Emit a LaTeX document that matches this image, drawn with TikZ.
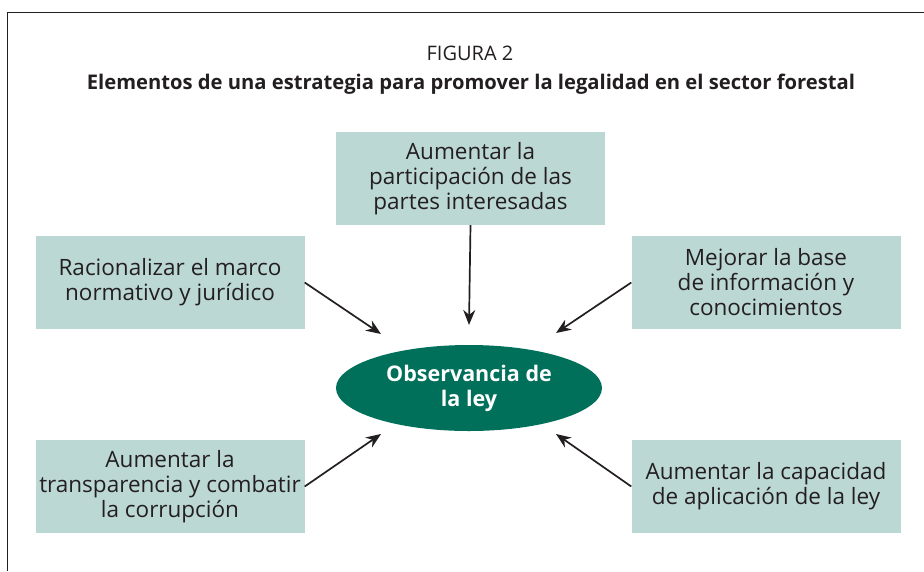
\documentclass[tikz,border=0pt]{standalone}
\usepackage{fontspec}
\setmainfont{Open Sans}
\usepackage{tikz}
\usetikzlibrary{arrows.meta,shapes.geometric}

\definecolor{boxfill}{HTML}{BCD8D4}
\definecolor{lawgreen}{HTML}{00705A}
\definecolor{inkgrey}{HTML}{231F20}

\tikzset{
  factorbox/.style={fill=boxfill,minimum width=269pt,minimum height=93pt,align=center,
    inner sep=0pt,text=inkgrey,font=\fontsize{22.5}{25}\selectfont},
  pusharrow/.style={->,line width=1.7pt,inkgrey},
}

\begin{document}
\begin{tikzpicture}[x=1pt,y=-1pt,>={Stealth[length=15pt,width=12pt]}]
 \useasboundingbox (0,0) rectangle (924,571);
 % frame
 \draw[inkgrey,line width=1pt] (7.5,571) -- (7.5,12) -- (924,12);
 % heading
 \node[text=inkgrey,font=\fontsize{20}{22}\selectfont] (figno) at (470,53) {FIGURA 2};
 \node[text=inkgrey,font=\fontsize{20.2}{22}\selectfont\bfseries] (caption) at (471,84)
   {Elementos de una estrategia para promover la legalidad en el sector forestal};
 % factors
 \node[factorbox] (top) at (470.5,178.5) {Aumentar la\\participación de las\\partes interesadas};
 \node[factorbox] (ul) at (170,282.5) {Racionalizar el marco\\normativo y jurídico};
 \node[factorbox] (ur) at (766,282.5) {Mejorar la base\\de información y\\conocimientos};
 \node[factorbox] (ll) at (170,486.5) {Aumentar la\\transparencia y combatir\\la corrupción};
 \node[factorbox] (lr) at (766,486.5) {Aumentar la capacidad\\de aplicación de la ley};
 % centre
 \node[ellipse,fill=lawgreen,minimum width=266pt,minimum height=86pt,inner sep=0pt,
   align=center,text=white,font=\fontsize{21.5}{25}\selectfont\bfseries] (law) at (469,388)
   {Observancia de\\la ley};
 % arrow heads end short of the ellipse
 \coordinate (topend) at (469,325);
 \coordinate (ulend) at (381,334);
 \coordinate (urend) at (556,333);
 \coordinate (llend) at (381,434);
 \coordinate (lrend) at (556,434);
 \draw[pusharrow] (top.south) -- (topend);
 \draw[pusharrow] (ul.east) -- (ulend);
 \draw[pusharrow] (ur.west) -- (urend);
 \draw[pusharrow] (ll.east) -- (llend);
 \draw[pusharrow] (lr.west) -- (lrend);
\end{tikzpicture}
\end{document}
